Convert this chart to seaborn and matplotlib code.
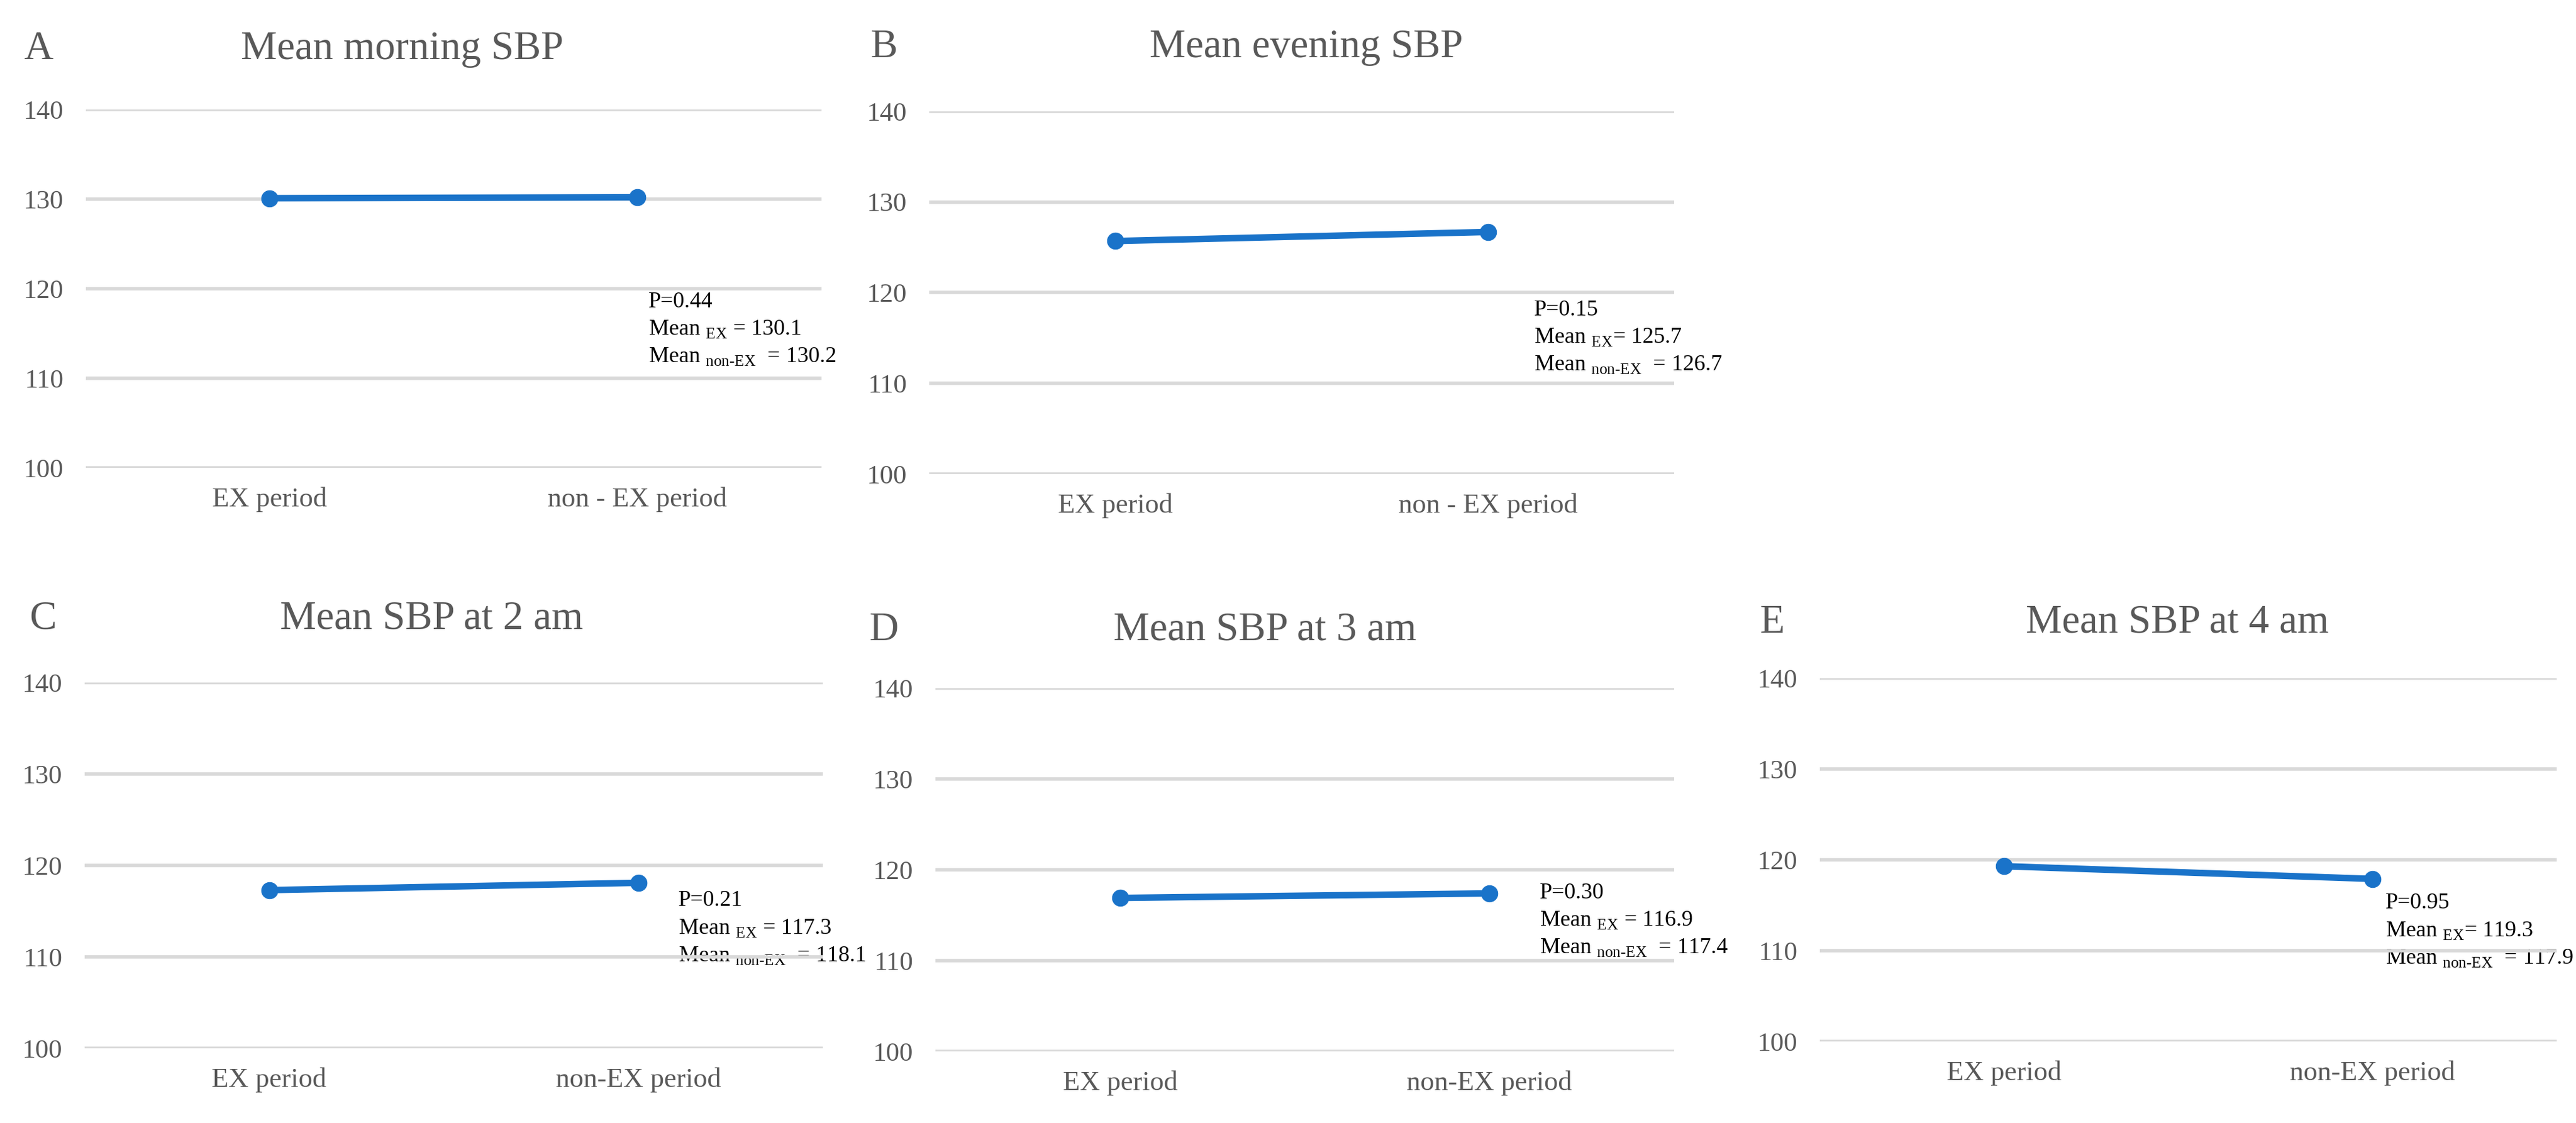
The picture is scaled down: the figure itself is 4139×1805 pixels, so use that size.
import matplotlib
matplotlib.use("Agg")
import matplotlib.pyplot as plt
import seaborn as sns
import pandas as pd

# values
panel_letters = ["A", "B", "C", "D", "E"]
titles = ["Mean morning SBP", "Mean evening SBP", "Mean SBP at 2 am",
          "Mean SBP at 3 am", "Mean SBP at 4 am"]
mean_ex = [130.1, 125.7, 117.3, 116.9, 119.3]
mean_non_ex = [130.2, 126.7, 118.1, 117.4, 117.9]
p_values = ["0.44", "0.15", "0.21", "0.30", "0.95"]
ex_eq = [" = ", "= ", " = ", " = ", "= "]
period_top = ["EX period", "non - EX period"]
period_bottom = ["EX period", "non-EX period"]
y_ticks = [100, 110, 120, 130, 140]

# layout in pixels (x0, x1, y_top, y_bottom), origin top-left
W, H = 4139, 1805
boxes = [(138, 1320, 176, 752), (1493, 2690, 179, 762),
         (136, 1322, 1097, 1685), (1503, 2690, 1106, 1690),
         (2924, 4108, 1090, 1674)]
title_pos = [(646, 79), (2099, 76), (693, 995), (2032, 1013), (3498, 1001)]
letter_x = [62, 1420, 69, 1420, 2847]
note_pos = [(1042, 485), (2465, 498), (1090, 1448), (2474, 1435), (3833, 1452)]
note_step = 44

sns.set_style("white")
plt.rcParams["font.family"] = ["Liberation Serif", "DejaVu Serif"]
plt.rcParams["mathtext.fontset"] = "custom"
plt.rcParams["mathtext.rm"] = "Liberation Serif"

gray = "#595959"
blue = "#1A73C9"

fig = plt.figure(figsize=(W / 100, H / 100), dpi=100)

for i in range(5):
    x0, x1, yt, yb = boxes[i]
    ax = fig.add_axes([x0 / W, 1 - yb / H, (x1 - x0) / W, (yb - yt) / H])
    ax.set_facecolor("none")
    labels = period_top if i < 2 else period_bottom
    df = pd.DataFrame({"period": labels, "sbp": [mean_ex[i], mean_non_ex[i]]})
    sns.lineplot(data=df, x="period", y="sbp", ax=ax, color=blue,
                 linewidth=7.5, marker="o", markersize=19,
                 markeredgecolor=blue, zorder=3)
    ax.set_xlim(-0.5, 1.5)
    ax.set_ylim(100, 140)
    ax.set_yticks(y_ticks)
    ax.set_xlabel("")
    ax.set_ylabel("")
    ax.grid(axis="y", color="#D9D9D9", linewidth=4)
    ax.set_axisbelow(True)
    for s in ax.spines.values():
        s.set_visible(False)
    ax.tick_params(axis="y", length=0, pad=26, labelsize=31, labelcolor=gray)
    ax.tick_params(axis="x", length=0, pad=22, labelsize=32, labelcolor=gray)

    tx, ty = title_pos[i]
    fig.text(tx / W, 1 - ty / H, titles[i], ha="center", va="center",
             fontsize=47, color=gray)
    fig.text(letter_x[i] / W, 1 - ty / H, panel_letters[i], ha="center",
             va="center", fontsize=47, color=gray)

    nx, ny = note_pos[i]
    lines = ["P=" + p_values[i],
             "Mean $_{\\mathrm{EX}}$" + ex_eq[i] + f"{mean_ex[i]:.1f}",
             "Mean $_{\\text{non-EX}}$  = " + f"{mean_non_ex[i]:.1f}"]
    for k, line in enumerate(lines):
        ax.text(nx / W, 1 - (ny + k * note_step) / H, line,
                transform=fig.transFigure, ha="left", va="center",
                fontsize=26, color="black", zorder=0.4, clip_on=False)

fig.savefig("out.png", dpi=100)
